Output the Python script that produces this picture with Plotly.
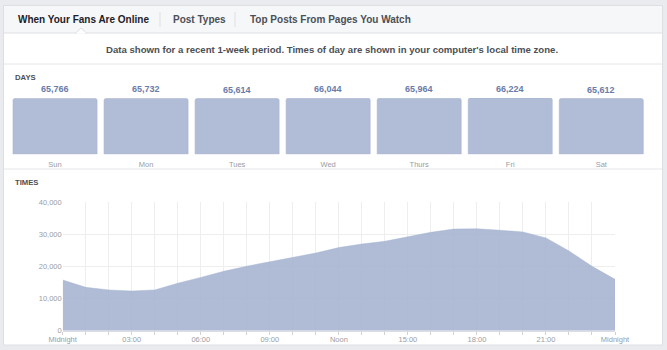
import plotly.graph_objects as go

# ---------------- data ----------------
days = ["Sun", "Mon", "Tues", "Wed", "Thurs", "Fri", "Sat"]
day_values = [65766, 65732, 65614, 66044, 65964, 66224, 65612]

hours = list(range(25))
fans_online = [15800, 13500, 12700, 12350, 12700, 14800, 16600, 18500, 20100,
               21400, 22750, 24200, 25900, 27000, 27850, 29200, 30650, 31650,
               31750, 31300, 30750, 28900, 24850, 20050, 16000]

hour_tick_vals = [0, 3, 6, 9, 12, 15, 18, 21, 24]
hour_tick_text = ["Midnight", "03:00", "06:00", "09:00", "Noon",
                  "15:00", "18:00", "21:00", "Midnight"]
count_tick_vals = [0, 10000, 20000, 30000, 40000]

tabs = ["When Your Fans Are Online", "Post Types", "Top Posts From Pages You Watch"]
subtitle = ("Data shown for a recent 1-week period. Times of day are shown "
            "in your computer's local time zone.")

# ---------------- helpers (pixel -> paper) ----------------
W, H = 667, 350
def X(px):
    return px / W
def Y(py):
    return 1 - py / H

FONT = "Liberation Sans, Arial, Helvetica, sans-serif"
BAR_COLOR = "#b1bcd6"
BORDER = "#dddfe2"
TICK_GRAY = "#9a9da3"

fig = go.Figure()

fig.add_trace(go.Bar(
    x=days, y=day_values, xaxis="x", yaxis="y",
    marker=dict(color=BAR_COLOR, cornerradius=2,
                line=dict(color="#a9b5d1", width=0.6)),
    hoverinfo="x+y", showlegend=False,
))

fig.add_trace(go.Scatter(
    x=hours, y=fans_online, xaxis="x2", yaxis="y2",
    mode="lines", line=dict(color="rgba(162,176,207,0.85)", width=0.5),
    fill="tozeroy", fillcolor="rgba(162,176,207,0.85)",
    hoverinfo="x+y", showlegend=False,
))

annotations = []
for d, v in zip(days, day_values):
    annotations.append(dict(
        x=d, y=v, xref="x", yref="y", text=f"{v:,}", showarrow=False,
        yanchor="middle", yshift=9,
        font=dict(family=FONT, size=9, color="#6a7ba8", weight="bold"),
    ))

tab_x = [16, 171, 248]
tab_colors = ["#1d2129", "#4b4f56", "#4b4f56"]
for t, tx, tc in zip(tabs, tab_x, tab_colors):
    annotations.append(dict(
        x=X(tx), y=Y(19.5), xref="paper", yref="paper", text=t,
        showarrow=False, xanchor="left", yanchor="middle",
        font=dict(family=FONT, size=10, color=tc, weight="bold"),
    ))

annotations.append(dict(
    x=X(331.5), y=Y(50), xref="paper", yref="paper", text=subtitle,
    showarrow=False, xanchor="center", yanchor="middle",
    font=dict(family=FONT, size=9.6, color="#4b4f56", weight="bold"),
))
for label, py in [("DAYS", 77.7), ("TIMES", 182)]:
    annotations.append(dict(
        x=X(12.5), y=Y(py), xref="paper", yref="paper", text=label,
        showarrow=False, xanchor="left", yanchor="middle",
        font=dict(family=FONT, size=7.7, color="#4b4f56", weight="bold"),
    ))

shapes = [
    dict(type="rect", xref="paper", yref="paper", layer="below",
         x0=X(3.5), x1=X(662.5), y0=Y(345), y1=Y(5.5),
         fillcolor="white", line=dict(color=BORDER, width=1)),
    dict(type="rect", xref="paper", yref="paper", layer="below",
         x0=X(4), x1=X(662), y0=Y(33), y1=Y(6),
         fillcolor="#f6f7f9", line=dict(width=0)),
    dict(type="line", xref="paper", yref="paper", layer="below",
         x0=X(3.5), x1=X(662.5), y0=Y(33), y1=Y(33),
         line=dict(color=BORDER, width=1)),
    dict(type="path", xref="paper", yref="paper", layer="below",
         path=f"M {X(75)},{Y(33.6)} L {X(81)},{Y(28)} L {X(87)},{Y(33.6)}",
         fillcolor="white", line=dict(color=BORDER, width=1)),
    dict(type="line", xref="paper", yref="paper", layer="below",
         x0=X(160), x1=X(160), y0=Y(12), y1=Y(27),
         line=dict(color=BORDER, width=1)),
    dict(type="line", xref="paper", yref="paper", layer="below",
         x0=X(235), x1=X(235), y0=Y(12), y1=Y(27),
         line=dict(color=BORDER, width=1)),
    dict(type="line", xref="paper", yref="paper", layer="below",
         x0=X(4), x1=X(662), y0=Y(64), y1=Y(64),
         line=dict(color="#e5e6e9", width=1)),
    dict(type="line", xref="paper", yref="paper", layer="below",
         x0=X(4), x1=X(662), y0=Y(169), y1=Y(169),
         line=dict(color="#e5e6e9", width=1)),
]

fig.update_layout(
    template="none",
    width=W, height=H, autosize=False,
    margin=dict(l=0, r=0, t=0, b=0, pad=0, autoexpand=False),
    paper_bgcolor="#e9ebee", plot_bgcolor="white",
    font=dict(family=FONT),
    bargap=0.077,
    showlegend=False,
    annotations=annotations, shapes=shapes,
    xaxis=dict(domain=[X(9.5), X(646.8)], type="category", automargin=False,
               showgrid=False, zeroline=False, showline=False, ticks="",
               tickfont=dict(family=FONT, size=7.5, color=TICK_GRAY),
               ticklabelstandoff=4, fixedrange=True),
    yaxis=dict(domain=[Y(154.3), Y(98)], range=[0, max(day_values)],
               automargin=False, visible=False, fixedrange=True),
    xaxis2=dict(domain=[X(62.7), X(615)], range=[0, 24], anchor="y2",
                automargin=False,
                tickmode="array", tickvals=hour_tick_vals, ticktext=hour_tick_text,
                showgrid=True, gridcolor="#eeeeee", gridwidth=1,
                zeroline=False, showline=True, linecolor="#dcdde0", linewidth=1,
                ticks="outside", ticklen=3, tickcolor="#cfd1d5", tickwidth=1,
                minor=dict(dtick=1, tick0=0, showgrid=True, gridcolor="#eeeeee",
                           gridwidth=1, ticks="outside", ticklen=3,
                           tickcolor="#cfd1d5", tickwidth=1),
                tickfont=dict(family=FONT, size=7.5, color=TICK_GRAY),
                ticklabelstandoff=-2, fixedrange=True),
    yaxis2=dict(domain=[Y(330.7), Y(202.3)], range=[0, 40000], anchor="x2",
                automargin=False,
                tickmode="array", tickvals=count_tick_vals, tickformat=",",
                showgrid=True, gridcolor="#eeeeee", gridwidth=1, zeroline=False,
                showline=False, ticks="",
                tickfont=dict(family=FONT, size=7.5, color=TICK_GRAY),
                fixedrange=True),
)

fig.write_html("out.html")
